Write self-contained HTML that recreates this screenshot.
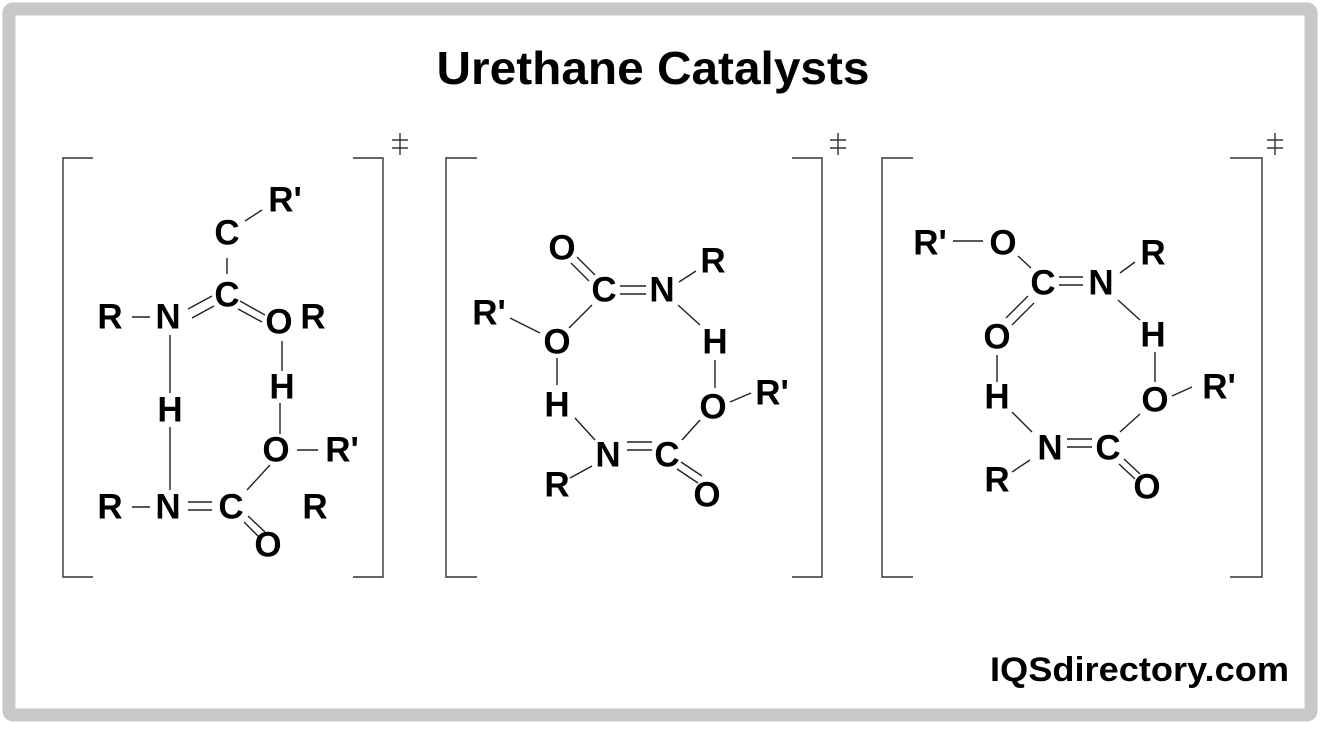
<!DOCTYPE html>
<html><head><meta charset="utf-8"><style>
html,body{margin:0;padding:0;background:#fff;}
svg{display:block;}
text{font-family:"Liberation Sans",Arial,sans-serif;font-weight:bold;fill:#000;}
</style></head><body>
<svg width="1323" height="729" viewBox="0 0 1323 729" xmlns="http://www.w3.org/2000/svg">
<rect x="0" y="0" width="1323" height="729" fill="#fff"/>
<rect x="9" y="9" width="1302" height="706" rx="4" fill="none" stroke="#c8c8c8" stroke-width="13"/>
<text x="653" y="84" font-size="46" text-anchor="middle" textLength="433" lengthAdjust="spacingAndGlyphs">Urethane Catalysts</text>
<text x="1289" y="681" font-size="34" text-anchor="end" textLength="299" lengthAdjust="spacingAndGlyphs">IQSdirectory.com</text>

<g fill="none" stroke="#333" stroke-width="1.4">
<polyline points="93,158 63,158 63,577 93,577"/>
<polyline points="353,158 383,158 383,577 353,577"/>
<polyline points="477,158 446,158 446,577 477,577"/>
<polyline points="792,158 822,158 822,577 792,577"/>
<polyline points="913,158 882,158 882,577 913,577"/>
<polyline points="1230,158 1262,158 1262,577 1230,577"/>
<path d="M400,133V155M392,140H408M392,148H408"/>
<path d="M838,133V155M830,140H846M830,148H846"/>
<path d="M1275,133V155M1267,140H1283M1267,148H1283"/>
</g>

<g fill="none" stroke="#222" stroke-width="1.4">
<path d="M245,221L262,210"/>
<path d="M227,258V274"/>
<path d="M188,309L212,296M192,318L214,306"/>
<path d="M240,301L265,315M238,309L262,322"/>
<path d="M132,317H150"/>
<path d="M170,335V393M170,427V490"/>
<path d="M282,341V371M280,403V434"/>
<path d="M297,450H318"/>
<path d="M270,465L247,490"/>
<path d="M132,507H150"/>
<path d="M188,502H212M188,510H212"/>
<path d="M248,516L265,532M244,522L260,538"/>
<path d="M577,257L595,275M571,263L589,281"/>
<path d="M620,286H646M620,294H646"/>
<path d="M679,282L696,271"/>
<path d="M510,318L540,333"/>
<path d="M569,328L592,305"/>
<path d="M678,305L700,325"/>
<path d="M557,358V385"/>
<path d="M715,360V388"/>
<path d="M730,402L751,393"/>
<path d="M575,418L595,440"/>
<path d="M627,442H652M627,450H652"/>
<path d="M700,420L682,440"/>
<path d="M570,478L592,466"/>
<path d="M681,462L702,476M677,469L698,483"/>
<path d="M953,241H983"/>
<path d="M1018,256L1031,268"/>
<path d="M1059,277H1083M1059,285H1083"/>
<path d="M1120,273L1135,262"/>
<path d="M1028,296L1006,318M1034,303L1012,325"/>
<path d="M1118,300L1140,320"/>
<path d="M997,355V382"/>
<path d="M1155,352V382"/>
<path d="M1172,396L1192,387"/>
<path d="M1012,412L1032,432"/>
<path d="M1067,439H1092M1067,447H1092"/>
<path d="M1140,414L1120,432"/>
<path d="M1012,472L1030,460"/>
<path d="M1124,459L1140,474M1119,464L1135,479"/>
</g>

<g font-size="35" text-anchor="middle" dominant-baseline="central">
<text x="285" y="200">R'</text>
<text x="227" y="233">C</text>
<text x="227" y="295">C</text>
<text x="110" y="317">R</text>
<text x="168" y="317">N</text>
<text x="279" y="322">O</text>
<text x="313" y="317">R</text>
<text x="170" y="410">H</text>
<text x="282" y="387">H</text>
<text x="276" y="450">O</text>
<text x="342" y="450">R'</text>
<text x="110" y="507">R</text>
<text x="168" y="507">N</text>
<text x="231" y="507">C</text>
<text x="315" y="507">R</text>
<text x="268" y="545">O</text>
<text x="562" y="248">O</text>
<text x="604" y="290">C</text>
<text x="662" y="290">N</text>
<text x="713" y="261">R</text>
<text x="489" y="313">R'</text>
<text x="557" y="342">O</text>
<text x="715" y="342">H</text>
<text x="557" y="405">H</text>
<text x="713" y="407">O</text>
<text x="772" y="393">R'</text>
<text x="608" y="455">N</text>
<text x="667" y="455">C</text>
<text x="557" y="485">R</text>
<text x="707" y="495">O</text>
<text x="930" y="243">R'</text>
<text x="1003" y="243">O</text>
<text x="1153" y="253">R</text>
<text x="1043" y="283">C</text>
<text x="1101" y="283">N</text>
<text x="997" y="337">O</text>
<text x="1153" y="335">H</text>
<text x="997" y="397">H</text>
<text x="1155" y="400">O</text>
<text x="1219" y="387">R'</text>
<text x="1050" y="448">N</text>
<text x="1108" y="448">C</text>
<text x="997" y="480">R</text>
<text x="1147" y="487">O</text>
</g>
</svg>
</body></html>
